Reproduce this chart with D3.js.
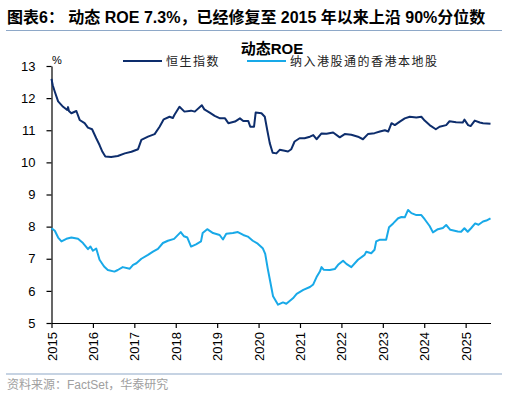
<!DOCTYPE html>
<html>
<head>
<meta charset="utf-8">
<script src="https://cdn.jsdelivr.net/npm/d3@7"></script>
<style>
  body { margin: 0; background: #fff; }
  svg { display: block; font-family: "Liberation Sans", Arial, "Noto Sans CJK SC", sans-serif; }
</style>
</head>
<body>
<div class="chart-container"></div>
<script>
// 恒生指数 动态ROE (decimal year, %)
const hsiYear = [2015.0, 2015.03, 2015.08, 2015.16, 2015.28, 2015.38, 2015.4, 2015.42, 2015.48, 2015.6, 2015.68, 2015.8, 2015.88, 2015.98, 2016.08, 2016.16, 2016.23, 2016.3, 2016.44, 2016.6, 2016.77, 2016.93, 2017.09, 2017.17, 2017.33, 2017.49, 2017.61, 2017.71, 2017.85, 2017.93, 2017.97, 2018.09, 2018.21, 2018.37, 2018.46, 2018.63, 2018.69, 2018.82, 2018.94, 2019.07, 2019.19, 2019.27, 2019.43, 2019.55, 2019.63, 2019.75, 2019.8, 2019.89, 2019.93, 2020.07, 2020.15, 2020.21, 2020.27, 2020.34, 2020.43, 2020.51, 2020.63, 2020.71, 2020.79, 2020.87, 2020.99, 2021.11, 2021.24, 2021.32, 2021.4, 2021.52, 2021.64, 2021.8, 2021.96, 2022.08, 2022.24, 2022.4, 2022.52, 2022.64, 2022.8, 2022.93, 2023.05, 2023.13, 2023.21, 2023.29, 2023.41, 2023.53, 2023.65, 2023.81, 2023.93, 2024.01, 2024.13, 2024.28, 2024.37, 2024.53, 2024.61, 2024.77, 2024.93, 2024.97, 2025.06, 2025.12, 2025.22, 2025.34, 2025.42, 2025.6];
const hsiRoe = [12.6, 12.4, 12.2, 11.9, 11.73, 11.63, 11.72, 11.6, 11.53, 11.6, 11.32, 11.22, 11.08, 11.03, 10.75, 10.54, 10.33, 10.18, 10.17, 10.2, 10.28, 10.33, 10.41, 10.7, 10.8, 10.88, 11.11, 11.34, 11.42, 11.38, 11.48, 11.73, 11.58, 11.61, 11.58, 11.78, 11.65, 11.55, 11.45, 11.37, 11.37, 11.22, 11.27, 11.37, 11.29, 11.29, 11.11, 11.11, 11.55, 11.53, 11.42, 11.0, 10.6, 10.3, 10.28, 10.39, 10.36, 10.34, 10.41, 10.65, 10.75, 10.75, 10.8, 10.85, 10.72, 10.9, 10.89, 10.93, 10.78, 10.88, 10.86, 10.8, 10.72, 10.88, 10.91, 10.96, 11.0, 10.96, 11.22, 11.16, 11.27, 11.37, 11.42, 11.4, 11.42, 11.3, 11.16, 11.03, 11.11, 11.16, 11.28, 11.25, 11.24, 11.33, 11.16, 11.13, 11.3, 11.24, 11.22, 11.2];

// 纳入港股通的香港本地股 动态ROE
const localYear = [2015.0, 2015.08, 2015.16, 2015.24, 2015.36, 2015.48, 2015.64, 2015.76, 2015.88, 2015.94, 2016.0, 2016.08, 2016.16, 2016.27, 2016.36, 2016.52, 2016.6, 2016.72, 2016.89, 2016.97, 2017.05, 2017.17, 2017.33, 2017.45, 2017.57, 2017.69, 2017.81, 2017.96, 2018.12, 2018.2, 2018.28, 2018.37, 2018.49, 2018.61, 2018.65, 2018.76, 2018.9, 2019.06, 2019.14, 2019.22, 2019.38, 2019.5, 2019.63, 2019.74, 2019.86, 2019.98, 2020.1, 2020.16, 2020.22, 2020.28, 2020.35, 2020.47, 2020.59, 2020.67, 2020.83, 2020.92, 2021.08, 2021.24, 2021.32, 2021.4, 2021.48, 2021.52, 2021.57, 2021.72, 2021.84, 2021.92, 2022.04, 2022.12, 2022.24, 2022.4, 2022.56, 2022.6, 2022.72, 2022.8, 2022.84, 2022.92, 2023.08, 2023.15, 2023.25, 2023.37, 2023.45, 2023.53, 2023.61, 2023.69, 2023.81, 2023.93, 2024.01, 2024.13, 2024.21, 2024.33, 2024.45, 2024.53, 2024.63, 2024.81, 2024.89, 2024.97, 2025.05, 2025.13, 2025.23, 2025.31, 2025.42, 2025.5, 2025.6];
const localRoe = [7.95, 7.87, 7.66, 7.54, 7.62, 7.66, 7.62, 7.49, 7.3, 7.38, 7.25, 7.32, 6.97, 6.76, 6.65, 6.6, 6.65, 6.74, 6.69, 6.81, 6.86, 7.0, 7.12, 7.22, 7.31, 7.49, 7.56, 7.62, 7.83, 7.7, 7.66, 7.38, 7.45, 7.54, 7.8, 7.92, 7.8, 7.74, 7.6, 7.78, 7.8, 7.83, 7.74, 7.69, 7.56, 7.47, 7.33, 7.15, 6.7, 6.3, 5.83, 5.57, 5.64, 5.6, 5.77, 5.91, 6.03, 6.12, 6.2, 6.43, 6.6, 6.74, 6.66, 6.65, 6.68, 6.81, 6.94, 6.84, 6.74, 6.97, 7.12, 7.22, 7.17, 7.28, 7.54, 7.59, 7.59, 7.98, 8.1, 8.26, 8.3, 8.29, 8.52, 8.42, 8.36, 8.36, 8.23, 8.02, 7.82, 7.92, 7.96, 8.05, 7.9, 7.85, 7.84, 7.95, 7.84, 7.95, 8.1, 8.06, 8.16, 8.19, 8.26];

const yearTicks = [2015, 2016, 2017, 2018, 2019, 2020, 2021, 2022, 2023, 2024, 2025];
const roeTicks = [5, 6, 7, 8, 9, 10, 11, 12, 13];

const seriesNames = ['恒生指数', '纳入港股通的香港本地股'];
const colors = ['#0d2d6c', '#18a9e8'];

const width = 505;
const height = 397;
const font = '"Liberation Sans", Arial, "Noto Sans CJK SC", sans-serif';

const svg = d3.select('.chart-container')
.append('svg')
.attr('width', width)
.attr('height', height);

// header
svg.append('text')
.attr('x', 7)
.attr('y', 23)
.attr('font-size', '16px')
.attr('font-weight', 'bold')
.attr('fill', '#000')
.text('图表6： 动态 ROE 7.3%，已经修复至 2015 年以来上沿 90%分位数');

svg.append('line')
.attr('x1', 6).attr('x2', 502)
.attr('y1', 30.5).attr('y2', 30.5)
.attr('stroke', '#8ea8c8')
.attr('stroke-width', 1.2);

svg.append('line')
.attr('x1', 6).attr('x2', 502)
.attr('y1', 374).attr('y2', 374)
.attr('stroke', '#8ea8c8')
.attr('stroke-width', 1.2);

svg.append('text')
.attr('x', 7)
.attr('y', 389)
.attr('font-size', '12px')
.attr('fill', '#a0a0a0')
.text('资料来源：FactSet，华泰研究');

// chart title
svg.append('text')
.attr('x', 272)
.attr('y', 54)
.attr('text-anchor', 'middle')
.attr('font-size', '15px')
.attr('font-weight', 'bold')
.text('动态ROE');

let x = d3.scaleLinear()
.domain([2015, 2025.6])
.range([51.5, 490.5]);

let y = d3.scaleLinear()
.domain([5, 13])
.range([323, 66]);

// axes
const xAxis = svg.append('g')
.attr('transform', 'translate(0,' + y(5) + ')')
.call(d3.axisBottom(x).tickValues(yearTicks).tickFormat(d3.format('d')).tickSize(5).tickSizeOuter(0))
.attr('font-family', font);

xAxis.selectAll('text')
.attr('transform', 'rotate(-90)')
.attr('text-anchor', 'end')
.attr('x', -9)
.attr('y', 0)
.attr('dy', '0.35em')
.attr('font-size', '13px')
.attr('fill', '#000');

const yAxis = svg.append('g')
.attr('transform', 'translate(' + x(2015) + ',0)')
.call(d3.axisLeft(y).tickValues(roeTicks).tickSize(5).tickSizeOuter(0).tickPadding(11))
.attr('font-family', font);

yAxis.selectAll('text')
.attr('font-size', '13px')
.attr('fill', '#000');

svg.selectAll('.domain, .tick line')
.attr('stroke', '#000')
.attr('stroke-width', 1.2);

svg.append('text')
.attr('x', 52)
.attr('y', 64)
.attr('font-size', '11px')
.text('%');

// lines
const line = d3.line()
.x(d => x(d[0]))
.y(d => y(d[1]));

const series = [
	d3.zip(hsiYear, hsiRoe),
	d3.zip(localYear, localRoe)
];

svg.append('g')
.selectAll('path')
.data(series)
.enter()
.append('path')
.attr('d', line)
.attr('fill', 'none')
.attr('stroke', (d, i) => colors[i])
.attr('stroke-width', 2)
.attr('stroke-linejoin', 'round');

// legend
const legendX = [123, 247];

const legend = svg.append('g')
.selectAll('g')
.data(seriesNames)
.enter()
.append('g')
.attr('transform', (d, i) => 'translate(' + legendX[i] + ',61)');

legend.append('line')
.attr('x1', 0).attr('x2', 39)
.attr('stroke', (d, i) => colors[i])
.attr('stroke-width', 2);

legend.append('text')
.attr('x', 43)
.attr('y', 4.5)
.attr('font-size', '12px')
.attr('letter-spacing', '1.5px')
.attr('fill', '#222')
.text(d => d);
</script>
</body>
</html>
